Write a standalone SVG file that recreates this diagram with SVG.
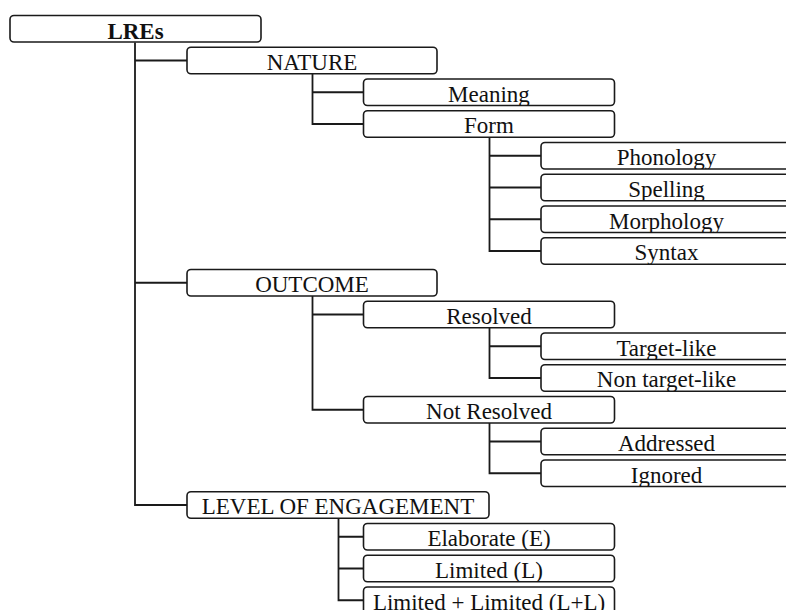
<svg xmlns="http://www.w3.org/2000/svg" width="786" height="610" viewBox="0 0 786 610">
<style>
.box{fill:#fff;stroke:#1a1a1a;stroke-width:1.6}
.t{font-family:"Liberation Serif","Times New Roman",serif;font-size:23px;fill:#111;text-anchor:middle}
.b{font-weight:bold}
.c{stroke:#1a1a1a;stroke-width:1.8;fill:none}
</style>
<rect width="786" height="610" fill="#fff"/>
<g id="connectors" class="c">
<path d="M135 42.5V505H187"/>
<path d="M135 60.5H187"/>
<path d="M135 282.75H187"/>
<path d="M312.5 73.75V124H363.5M312.5 92.25H363.5"/>
<path d="M489.5 137.25V251H541M489.5 155.75H541M489.5 187.5H541M489.5 219.25H541"/>
<path d="M312.5 296V409.75H363.5M312.5 314.5H363.5"/>
<path d="M489.5 327.75V378H541M489.5 346.25H541"/>
<path d="M489.5 423V473.25H541M489.5 441.5H541"/>
<path d="M338.5 518.25V600.25H363.5M338.5 536.75H363.5M338.5 568.5H363.5"/>
</g>
<g id="lres"><rect class="box" x="10" y="15.5" width="251" height="26.5" rx="4"/><svg x="10" y="15.5" width="251" height="26.5"><text class="t b" x="125.5" y="23">LREs</text></svg></g>
<g id="nature"><rect class="box" x="187" y="47.25" width="250" height="26.5" rx="4"/><svg x="187" y="47.25" width="250" height="26.5"><text class="t" x="125" y="22.5">NATURE</text></svg></g>
<g id="meaning"><rect class="box" x="363.5" y="79" width="251" height="26.5" rx="4"/><svg x="363.5" y="79" width="251" height="26.5"><text class="t" x="125.5" y="22.5">Meaning</text></svg></g>
<g id="form"><rect class="box" x="363.5" y="110.75" width="251" height="26.5" rx="4"/><svg x="363.5" y="110.75" width="251" height="26.5"><text class="t" x="125.5" y="22.5">Form</text></svg></g>
<g id="phonology"><rect class="box" x="541" y="142.5" width="251" height="26.5" rx="4"/><svg x="541" y="142.5" width="251" height="26.5"><text class="t" x="125.5" y="22.5">Phonology</text></svg></g>
<g id="spelling"><rect class="box" x="541" y="174.25" width="251" height="26.5" rx="4"/><svg x="541" y="174.25" width="251" height="26.5"><text class="t" x="125.5" y="22.5">Spelling</text></svg></g>
<g id="morphology"><rect class="box" x="541" y="206" width="251" height="26.5" rx="4"/><svg x="541" y="206" width="251" height="26.5"><text class="t" x="125.5" y="22.5">Morphology</text></svg></g>
<g id="syntax"><rect class="box" x="541" y="237.75" width="251" height="26.5" rx="4"/><svg x="541" y="237.75" width="251" height="26.5"><text class="t" x="125.5" y="22.5">Syntax</text></svg></g>
<g id="outcome"><rect class="box" x="187" y="269.5" width="250" height="26.5" rx="4"/><svg x="187" y="269.5" width="250" height="26.5"><text class="t" x="125" y="22.5">OUTCOME</text></svg></g>
<g id="resolved"><rect class="box" x="363.5" y="301.25" width="251" height="26.5" rx="4"/><svg x="363.5" y="301.25" width="251" height="26.5"><text class="t" x="125.5" y="22.5">Resolved</text></svg></g>
<g id="target-like"><rect class="box" x="541" y="333" width="251" height="26.5" rx="4"/><svg x="541" y="333" width="251" height="26.5"><text class="t" x="125.5" y="22.5">Target-like</text></svg></g>
<g id="non-target-like"><rect class="box" x="541" y="364.75" width="251" height="26.5" rx="4"/><svg x="541" y="364.75" width="251" height="26.5"><text class="t" x="125.5" y="22.5">Non target-like</text></svg></g>
<g id="not-resolved"><rect class="box" x="363.5" y="396.5" width="251" height="26.5" rx="4"/><svg x="363.5" y="396.5" width="251" height="26.5"><text class="t" x="125.5" y="22.5">Not Resolved</text></svg></g>
<g id="addressed"><rect class="box" x="541" y="428.25" width="251" height="26.5" rx="4"/><svg x="541" y="428.25" width="251" height="26.5"><text class="t" x="125.5" y="22.5">Addressed</text></svg></g>
<g id="ignored"><rect class="box" x="541" y="460" width="251" height="26.5" rx="4"/><svg x="541" y="460" width="251" height="26.5"><text class="t" x="125.5" y="22.5">Ignored</text></svg></g>
<g id="level"><rect class="box" x="187" y="491.75" width="302" height="26.5" rx="4"/><svg x="187" y="491.75" width="302" height="26.5"><text class="t" x="151" y="22.5">LEVEL OF ENGAGEMENT</text></svg></g>
<g id="elaborate"><rect class="box" x="363.5" y="523.5" width="251" height="26.5" rx="4"/><svg x="363.5" y="523.5" width="251" height="26.5"><text class="t" x="125.5" y="22.5">Elaborate (E)</text></svg></g>
<g id="limited"><rect class="box" x="363.5" y="555.25" width="251" height="26.5" rx="4"/><svg x="363.5" y="555.25" width="251" height="26.5"><text class="t" x="125.5" y="22.5">Limited (L)</text></svg></g>
<g id="limited-limited"><rect class="box" x="363.5" y="587" width="251" height="26.5" rx="4"/><svg x="363.5" y="587" width="251" height="26.5"><text class="t" x="125.5" y="22.5">Limited + Limited (L+L)</text></svg></g>
</svg>
